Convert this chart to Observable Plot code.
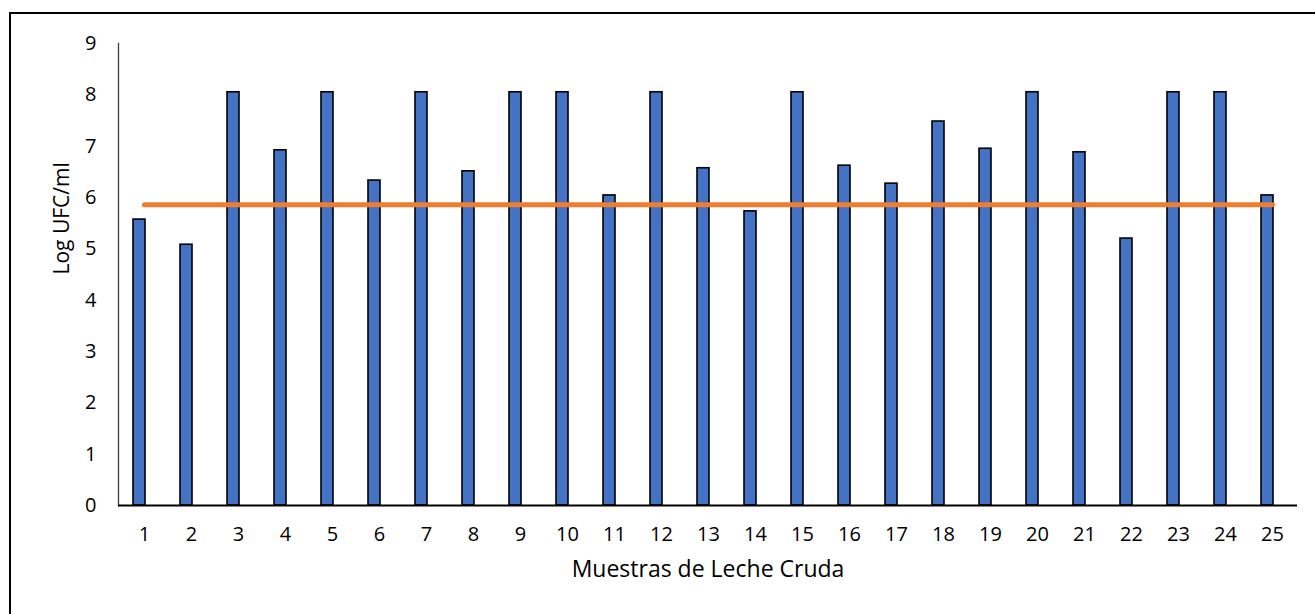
<!DOCTYPE html>
<html>
<head>
<meta charset="utf-8">
<script src="https://cdn.jsdelivr.net/npm/d3@7"></script>
<script src="https://cdn.jsdelivr.net/npm/@observablehq/plot@0.6"></script>
<style>
  html, body { margin: 0; padding: 0; background: #fff; overflow: hidden; width: 1315px; height: 614px; }
  #chart { position: absolute; left: 0; top: 0; }
  #frame { position: absolute; left: 9px; top: 12px; width: 1400px; height: 700px; border: 2px solid #000; box-sizing: border-box; pointer-events: none; }
</style>
</head>
<body>
<div id="chart"></div>
<div id="frame"></div>
<script>
const samples = ["1","2","3","4","5","6","7","8","9","10","11","12","13","14","15","16","17","18","19","20","21","22","23","24","25"];
const logUFC = [5.57, 5.08, 8.05, 6.92, 8.05, 6.33, 8.05, 6.51, 8.05, 8.05, 6.04, 8.05, 6.57, 5.73, 8.05, 6.62, 6.27, 7.48, 6.95, 8.05, 6.88, 5.20, 8.05, 8.05, 6.04];
const limit = 5.86;
const yTicks = [0,1,2,3,4,5,6,7,8,9];
const yTitle = "Log UFC/ml";
const xTitle = "Muestras de Leche Cruda";

const bars = samples.map((s, i) => ({sample: s, value: logUFC[i]}));
const limitLine = samples.map(s => ({sample: s, value: limit}));

const font = "'Open Sans', sans-serif";

const chart = Plot.plot({
  width: 1315,
  height: 614,
  marginLeft: 118,
  marginRight: 18,
  marginTop: 43,
  marginBottom: 109,
  style: {fontFamily: font, fontSize: "20px", color: "#000", background: "transparent"},
  x: {domain: samples, paddingInner: 0.745, paddingOuter: 0.3725, label: null},
  y: {domain: [0, 9], label: null},
  marks: [
    Plot.axisY({ticks: yTicks, tickSize: 0, tickPadding: 22, fontSize: 20, label: null}),
    Plot.axisX({tickSize: 0, tickPadding: 21, fontSize: 20, label: null}),
    Plot.frame({anchor: "left", stroke: "#404040", strokeWidth: 1.3}),
    Plot.barY(bars, {x: "sample", y: "value", fill: "#4472C4", stroke: "#000", strokeWidth: 1.6, dx: -5}),
    Plot.ruleY([0], {stroke: "#000", strokeWidth: 2}),
    Plot.lineY(limitLine, {x: "sample", y: "value", stroke: "#ED7D31", strokeWidth: 5, strokeLinecap: "round"}),
    Plot.text([yTitle], {frameAnchor: "left", rotate: -90, dx: -56, fontSize: 21, fill: "#000"}),
    Plot.text([xTitle], {frameAnchor: "bottom", dy: 71, fontSize: 23, fill: "#000"})
  ]
});
document.getElementById("chart").appendChild(chart);
</script>
</body>
</html>
